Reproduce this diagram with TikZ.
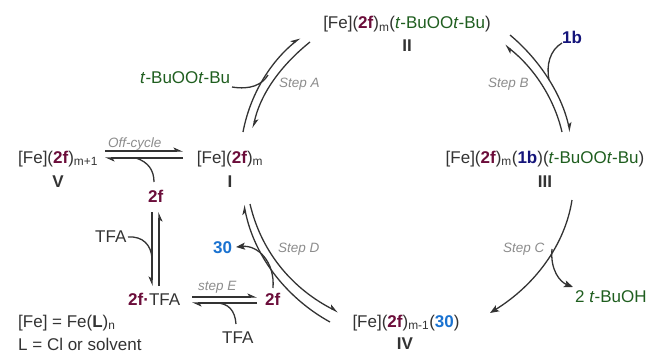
\documentclass[tikz,border=0pt]{standalone}
\usepackage{fontspec}
\setmainfont{Liberation Sans}
\usetikzlibrary{arrows.meta}
\definecolor{txt}{HTML}{333333}
\definecolor{cpd}{HTML}{6B0D3A}
\definecolor{grn}{HTML}{1F5E1F}
\definecolor{nav}{HTML}{14147A}
\definecolor{blu}{HTML}{1A72D0}
\definecolor{stp}{HTML}{8C8C8C}
\newcommand\tf{\textcolor{cpd}{\textbf{2f}}}
\newcommand\ob{\textcolor{nav}{\textbf{1b}}}
\newcommand\tz{\textcolor{blu}{\textbf{30}}}
\newcommand\tbp{\textcolor{grn}{\textit{t}-BuOO\textit{t}-Bu}}
\newcommand\sbs[1]{\textsubscript{#1}}
\begin{document}
\begin{tikzpicture}[x=1pt,y=-1pt,
  lbl/.style={inner sep=0pt,font=\fontsize{17}{20}\selectfont,text=txt},
  stplbl/.style={inner sep=0pt,font=\fontsize{13.5}{16}\selectfont\itshape,text=stp},
  ln/.style={draw=txt,line width=1.3pt},
  hp/.style={ln,-{Stealth[harpoon,length=8pt,width=7pt,inset=2pt]}},
  hps/.style={ln,-{Stealth[harpoon,swap,length=8pt,width=7pt,inset=2pt]}},
  fa/.style={ln,-{Stealth[length=9pt,width=7pt,inset=2pt]}}]
\useasboundingbox (0,0) rectangle (647,353);
% compounds
\node[lbl,anchor=base] (II) at (407,29) {[Fe](\tf)\sbs{m}(\tbp)};
\node[lbl,anchor=base,font=\fontsize{17}{20}\selectfont\bfseries] (IIl) at (407,52) {II};
\node[lbl,anchor=base] (III) at (545,163) {[Fe](\tf)\sbs{m}(\ob)(\tbp)};
\node[lbl,anchor=base,font=\fontsize{17}{20}\selectfont\bfseries] (IIIl) at (545,187) {III};
\node[lbl,anchor=base] (I) at (230,163) {[Fe](\tf)\sbs{m}};
\node[lbl,anchor=base,font=\fontsize{17}{20}\selectfont\bfseries] (Il) at (230,187) {I};
\node[lbl,anchor=base west] (V) at (18,163) {[Fe](\tf)\sbs{m+1}};
\node[lbl,anchor=base,font=\fontsize{17}{20}\selectfont\bfseries] (Vl) at (58,187) {V};
\node[lbl,anchor=base] (IV) at (406,327) {[Fe](\tf)\sbs{m-1}(\tz)};
\node[lbl,anchor=base,font=\fontsize{17}{20}\selectfont\bfseries] (IVl) at (405,349) {IV};
% reagents
\node[lbl,anchor=base west] (tbp) at (140,83) {\tbp};
\node[lbl,anchor=base west] (b1) at (562,44) {\ob};
\node[lbl,anchor=base west] (tbuoh) at (575,302) {\textcolor{grn}{2 \textit{t}-BuOH}};
\node[lbl,anchor=base west] (p30) at (213,253) {\tz};
\node[lbl,anchor=base west] (f2a) at (148,202) {\tf};
\node[lbl,anchor=base west] (tfa1) at (95,242) {TFA};
\node[lbl,anchor=base west] (ftfa) at (128,305) {\tf\textcolor{cpd}{\textbf{·}}TFA};
\node[lbl,anchor=base west] (f2b) at (265,305) {\tf};
\node[lbl,anchor=base west] (tfa2) at (222,343) {TFA};
\node[lbl,anchor=base west] (def1) at (18,327) {[Fe] = Fe(\textbf{L})\sbs{n}};
\node[lbl,anchor=base west] (def2) at (18,350) {L = Cl or solvent};
% step labels
\node[stplbl,anchor=base west] (sA) at (279,87) {Step A};
\node[stplbl,anchor=base west] (sB) at (488,87) {Step B};
\node[stplbl,anchor=base west] (sC) at (503,252) {Step C};
\node[stplbl,anchor=base west] (sD) at (278,252) {Step D};
\node[stplbl,anchor=base west] (sE) at (198,290) {step E};
\node[stplbl,anchor=base west] (oc) at (108,147) {Off-cycle};
% coordinates
\coordinate (a1) at (243,132); \coordinate (a2) at (300,38);
\coordinate (a3) at (310,42);  \coordinate (a4) at (253,128);
\coordinate (a5) at (232,87);  \coordinate (a6) at (268,75);
\coordinate (b1s) at (510,35); \coordinate (b1e) at (570,132);
\coordinate (b2s) at (562,132);\coordinate (b2e) at (505,45);
\coordinate (b3) at (562,43);  \coordinate (b4) at (549,80);
\coordinate (c1) at (572,200); \coordinate (c2) at (490,313);
\coordinate (c3) at (552,249); \coordinate (c4) at (573,287);
\coordinate (d1) at (330,322); \coordinate (d2) at (244,205);
\coordinate (d3) at (250,204); \coordinate (d4) at (338,312);
\coordinate (d5) at (273,288); \coordinate (d6) at (236,247);
\coordinate (o1) at (105,151); \coordinate (o2) at (183,151);
\coordinate (o3) at (183,158); \coordinate (o4) at (105,158);
\coordinate (o5) at (154,182); \coordinate (o6) at (136,158);
\coordinate (v1) at (152,212); \coordinate (v2) at (152,286);
\coordinate (v3) at (159,286); \coordinate (v4) at (159,212);
\coordinate (t1) at (128,237); \coordinate (t2) at (152,258);
\coordinate (e1) at (192,297); \coordinate (e2) at (257,297);
\coordinate (e3) at (257,303); \coordinate (e4) at (192,303);
\coordinate (t3) at (236,324); \coordinate (t4) at (216,303);
% Step A
\draw[hp] (a1) .. controls (250,95) and (270,62) .. (a2);
\draw[hp] (a3) .. controls (280,66) and (260,95) .. (a4);
\draw[ln] (a5) .. controls (250,90) and (262,85) .. (a6);
% Step B
\draw[hp] (b1s) .. controls (540,60) and (562,95) .. (b1e);
\draw[hp] (b2s) .. controls (554,98) and (534,68) .. (b2e);
\draw[ln] (b3) .. controls (550,50) and (546,65) .. (b4);
% Step C
\draw[fa] (c1) .. controls (565,245) and (535,285) .. (c2);
\draw[fa] (c3) .. controls (550,270) and (560,282) .. (c4);
% Step D
\draw[hp] (d1) .. controls (290,300) and (255,260) .. (d2);
\draw[hp] (d3) .. controls (262,255) and (295,290) .. (d4);
\draw[fa] (d5) .. controls (275,262) and (258,245) .. (d6);
% Off-cycle
\draw[hp] (o1) -- (o2);
\draw[hp] (o3) -- (o4);
\draw[ln] (o5) .. controls (154,170) and (148,162) .. (o6);
% vertical
\draw[hps] (v1) -- (v2);
\draw[hps] (v3) -- (v4);
\draw[ln] (t1) .. controls (143,236) and (151,245) .. (t2);
% step E
\draw[hp] (e1) -- (e2);
\draw[hp] (e3) -- (e4);
\draw[ln] (t3) .. controls (235,310) and (228,303) .. (t4);
\end{tikzpicture}
\end{document}
